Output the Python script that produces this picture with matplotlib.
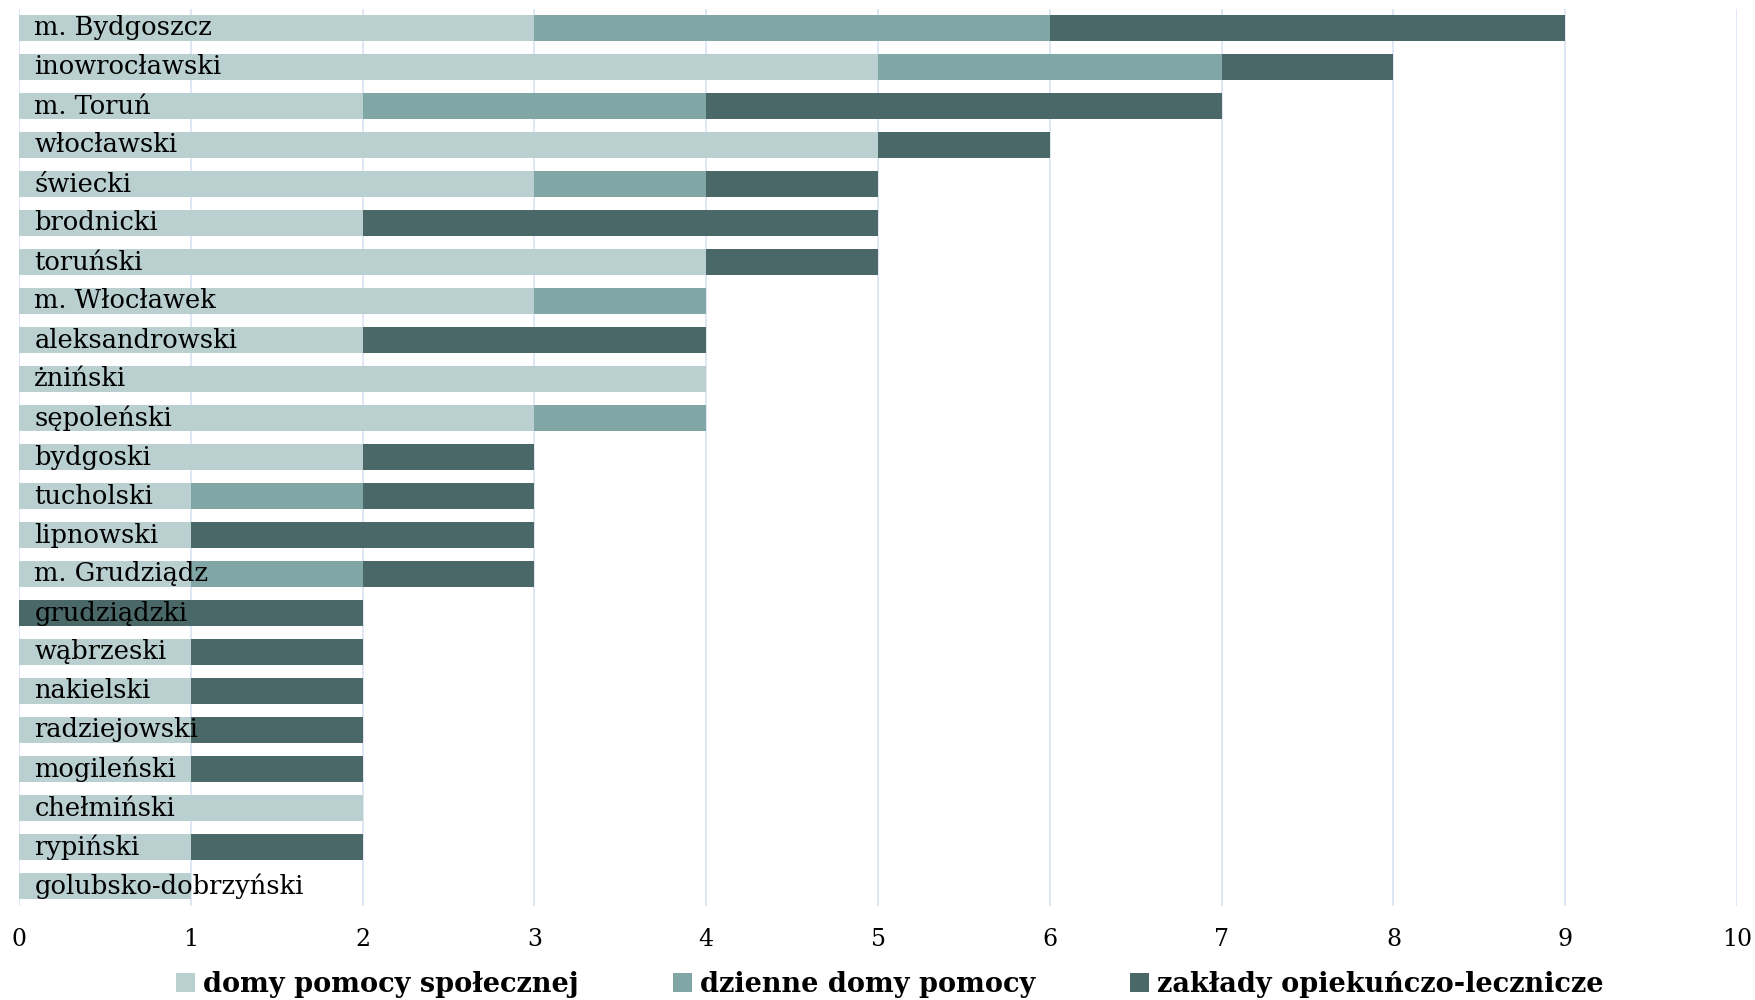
import matplotlib.pyplot as plt
import numpy as np

powiaty = [
    "m. Bydgoszcz", "inowrocławski", "m. Toruń", "włocławski", "świecki",
    "brodnicki", "toruński", "m. Włocławek", "aleksandrowski", "żniński",
    "sępoleński", "bydgoski", "tucholski", "lipnowski", "m. Grudziądz",
    "grudziądzki", "wąbrzeski", "nakielski", "radziejowski", "mogileński",
    "chełmiński", "rypiński", "golubsko-dobrzyński",
]
dps = [3, 5, 2, 5, 3, 2, 4, 3, 2, 4, 3, 2, 1, 1, 1, 0, 1, 1, 1, 1, 2, 1, 1]
ddp = [3, 2, 2, 0, 1, 0, 0, 1, 0, 0, 1, 0, 1, 0, 1, 0, 0, 0, 0, 0, 0, 0, 0]
zol = [3, 1, 3, 1, 1, 3, 1, 0, 2, 0, 0, 1, 1, 2, 1, 2, 1, 1, 1, 1, 0, 1, 0]

series_names = ["domy pomocy społecznej", "dzienne domy pomocy",
                "zakłady opiekuńczo-lecznicze"]
colors = ["#B9CFD0", "#80A6A5", "#4A6868"]

plt.rcParams['font.family'] = ['DejaVu Serif']

fig = plt.figure(figsize=(17.55, 10), dpi=100)
ax = fig.add_axes([0.0108, 0.0945, 0.979, 0.897])

y = np.arange(len(powiaty))
left = np.zeros(len(powiaty))
for vals, name, col in zip([dps, ddp, zol], series_names, colors):
    ax.barh(y, vals, left=left, height=0.69, color=col, label=name, zorder=2)
    left += np.array(vals)

# nazwy powiatów wpisane na słupkach, przy lewej krawędzi
for yi, name in zip(y, powiaty):
    ax.text(0.09, yi, name, va='center', ha='left', fontsize=18.5, zorder=3)

ax.set_ylim(len(powiaty) - 0.5, -0.5)
ax.set_xlim(0, 10)
ax.set_xticks(range(0, 11))
ax.set_yticks([])
ax.tick_params(axis='x', length=0, pad=16, labelsize=17)
ax.grid(axis='x', color='#D9E1F2', linewidth=1.2, zorder=0)
for s in ax.spines.values():
    s.set_visible(False)

fig.legend(loc='lower center', bbox_to_anchor=(0.507, -0.022), ncol=3,
           frameon=False, prop={'weight': 'bold', 'size': 19.5},
           handlelength=0.7, handleheight=0.7, handletextpad=0.3,
           columnspacing=3.5)

fig.savefig("out.png", dpi=100)
